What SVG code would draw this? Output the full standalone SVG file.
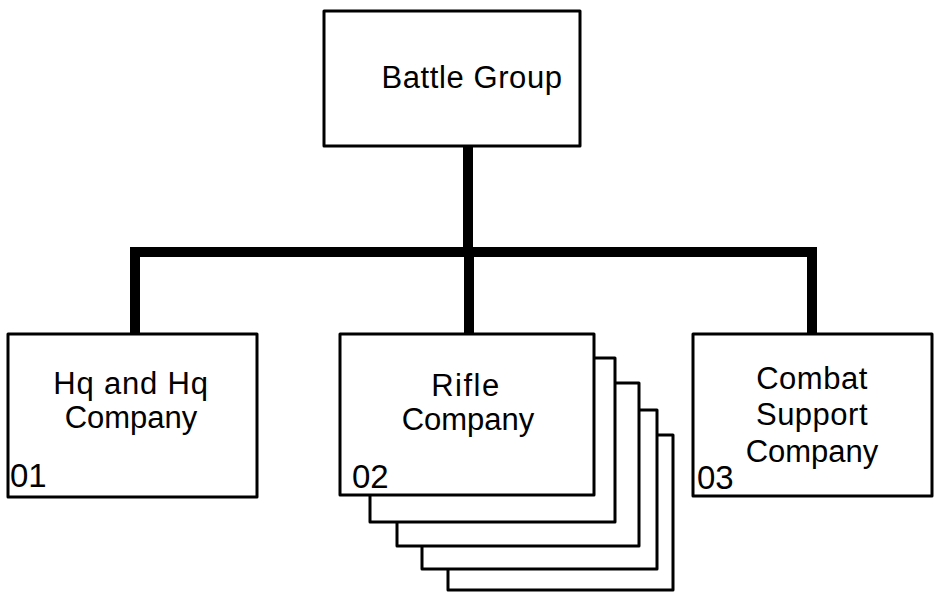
<svg xmlns="http://www.w3.org/2000/svg" width="935" height="592" viewBox="0 0 935 592">
  <style>
    .box { fill: #ffffff; stroke: #000000; stroke-width: 3; stroke-linejoin: round; }
    .link { fill: none; stroke: #000000; stroke-width: 10; stroke-linejoin: miter; stroke-linecap: butt; }
    .label { font-family: "Liberation Sans", Arial, sans-serif; font-size: 31px; fill: #000000; text-anchor: middle; }
    .code { font-family: "Liberation Sans", Arial, sans-serif; font-size: 33px; fill: #000000; }
  </style>

  <rect x="0" y="0" width="935" height="592" fill="#ffffff"/>

  <!-- connectors: trunk, bar and three drops -->
  <g id="connectors">
    <path class="link" d="M468,146 V252"/>
    <path class="link" d="M135,334 V252 H812 V334"/>
    <path class="link" d="M469,252 V334"/>
  </g>

  <g id="battle-group">
    <rect class="box" x="324" y="11" width="256" height="135"/>
    <text class="label" x="472" y="88" font-size="32" letter-spacing="0.6">Battle Group</text>
  </g>

  <g id="hq-company">
    <rect class="box" x="8" y="334" width="249" height="163"/>
    <text class="label" x="131" y="394" letter-spacing="0.8">Hq and Hq</text>
    <text class="label" x="131" y="428">Company</text>
    <text class="code" x="10" y="487">01</text>
  </g>

  <g id="rifle-company">
    <!-- stacked sheets behind the front box -->
    <rect class="box" x="448" y="435" width="225" height="155"/>
    <rect class="box" x="422" y="410" width="235" height="159"/>
    <rect class="box" x="397" y="383" width="242" height="163"/>
    <rect class="box" x="370" y="358" width="245" height="164"/>
    <rect class="box" x="340" y="334" width="254" height="161"/>
    <text class="label" x="466" y="396" letter-spacing="1.5">Rifle</text>
    <text class="label" x="468" y="430">Company</text>
    <text class="code" x="352" y="488">02</text>
  </g>

  <g id="combat-support-company">
    <rect class="box" x="693" y="334" width="239" height="162"/>
    <text class="label" x="812" y="389" letter-spacing="0.5">Combat</text>
    <text class="label" x="812" y="425" letter-spacing="0.5">Support</text>
    <text class="label" x="812" y="462">Company</text>
    <text class="code" x="697" y="489">03</text>
  </g>
</svg>
